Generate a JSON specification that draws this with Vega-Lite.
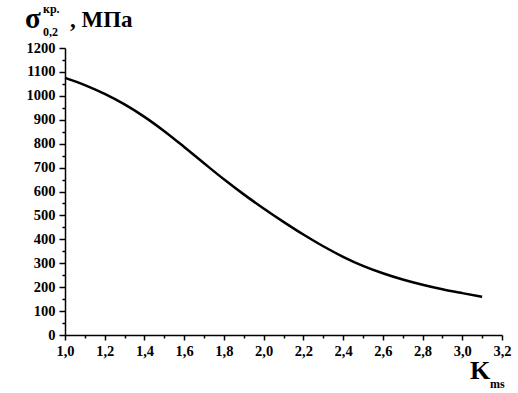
{
  "$schema": "https://vega.github.io/schema/vega-lite/v6.json",
  "width": 437,
  "height": 287,
  "autosize": {"type": "none"},
  "padding": {"left": 65, "top": 48, "right": 16, "bottom": 58},
  "background": "white",
  "config": {
    "view": {"stroke": null},
    "font": "Liberation Serif",
    "axis": {
      "title": null, "grid": false,
      "domainColor": "black", "domainWidth": 1.5,
      "tickColor": "black", "tickWidth": 1.5,
      "labelFont": "Liberation Serif", "labelFontWeight": "bold", "labelFontSize": 14.5,
      "labelColor": "black", "labelOverlap": false, "labelBound": false, "labelFlush": false
    },
    "axisX": {"labelPadding": 4},
    "axisY": {"labelPadding": 4}
  },
  "datasets": {
    "curve": [
      {"K": 1.0, "sigma": 1075},
      {"K": 1.1, "sigma": 1045},
      {"K": 1.2, "sigma": 1008},
      {"K": 1.3, "sigma": 964},
      {"K": 1.4, "sigma": 912},
      {"K": 1.5, "sigma": 852},
      {"K": 1.6, "sigma": 786},
      {"K": 1.7, "sigma": 718},
      {"K": 1.8, "sigma": 651},
      {"K": 1.9, "sigma": 588},
      {"K": 2.0, "sigma": 529},
      {"K": 2.1, "sigma": 473},
      {"K": 2.2, "sigma": 420},
      {"K": 2.3, "sigma": 371},
      {"K": 2.4, "sigma": 327},
      {"K": 2.5, "sigma": 289},
      {"K": 2.6, "sigma": 258},
      {"K": 2.7, "sigma": 232},
      {"K": 2.8, "sigma": 210},
      {"K": 2.9, "sigma": 191},
      {"K": 3.0, "sigma": 175},
      {"K": 3.1, "sigma": 160}
    ],
    "labels": [
      {"t": "σ", "lx": 0.7986, "ly": 1284, "size": 29},
      {"t": "кр.", "lx": 0.8892, "ly": 1346, "size": 12},
      {"t": "0,2", "lx": 0.8892, "ly": 1250, "size": 12},
      {"t": ", МПа", "lx": 1.0252, "ly": 1288, "size": 23},
      {"t": "K", "lx": 3.0389, "ly": -184, "size": 26},
      {"t": "ms", "lx": 3.1395, "ly": -222, "size": 12}
    ]
  },
  "layer": [
    {
      "data": {"name": "curve"},
      "mark": {"type": "line", "color": "black", "strokeWidth": 2.5, "interpolate": "monotone"},
      "encoding": {
        "x": {
          "field": "K", "type": "quantitative",
          "scale": {"domain": [1.0, 3.2], "nice": false, "zero": false},
          "axis": {
            "values": [1.0,1.1,1.2,1.3,1.4,1.5,1.6,1.7,1.8,1.9,2.0,2.1,2.2,2.3,2.4,2.5,2.6,2.7,2.8,2.9,3.0,3.1,3.2],
            "tickSize": {"condition": {"test": "round(datum.value*10) % 2 === 0", "value": 5}, "value": 3},
            "labelExpr": "round(datum.value*10) % 2 === 0 ? replace(format(datum.value, '.1f'), '.', ',') : ''"
          }
        },
        "y": {
          "field": "sigma", "type": "quantitative",
          "scale": {"domain": [0, 1200], "nice": false},
          "axis": {
            "values": [0,50,100,150,200,250,300,350,400,450,500,550,600,650,700,750,800,850,900,950,1000,1050,1100,1150,1200],
            "tickSize": {"condition": {"test": "datum.value % 100 === 0", "value": 6}, "value": 3},
            "labelExpr": "datum.value % 100 === 0 ? format(datum.value, 'd') : ''"
          }
        }
      }
    },
    {
      "data": {"name": "labels"},
      "mark": {"type": "text", "align": "left", "baseline": "alphabetic", "font": "Liberation Serif", "fontWeight": "bold", "color": "black", "clip": false},
      "encoding": {
        "x": {
          "field": "lx", "type": "quantitative",
          "axis": {
            "values": [1.0,1.1,1.2,1.3,1.4,1.5,1.6,1.7,1.8,1.9,2.0,2.1,2.2,2.3,2.4,2.5,2.6,2.7,2.8,2.9,3.0,3.1,3.2],
            "tickSize": {"condition": {"test": "round(datum.value*10) % 2 === 0", "value": 5}, "value": 3},
            "labelExpr": "round(datum.value*10) % 2 === 0 ? replace(format(datum.value, '.1f'), '.', ',') : ''"
          }
        },
        "y": {
          "field": "ly", "type": "quantitative",
          "axis": {
            "values": [0,50,100,150,200,250,300,350,400,450,500,550,600,650,700,750,800,850,900,950,1000,1050,1100,1150,1200],
            "tickSize": {"condition": {"test": "datum.value % 100 === 0", "value": 6}, "value": 3},
            "labelExpr": "datum.value % 100 === 0 ? format(datum.value, 'd') : ''"
          }
        },
        "text": {"field": "t"},
        "size": {"field": "size", "type": "quantitative", "scale": null}
      }
    }
  ]
}
